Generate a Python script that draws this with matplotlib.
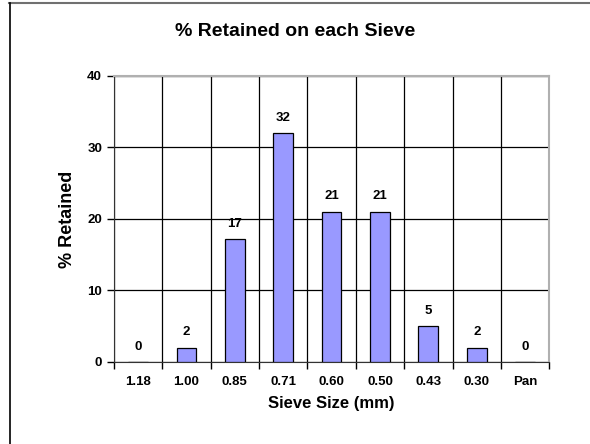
import matplotlib

matplotlib.use("Agg")
import matplotlib.pyplot as plt  # noqa: E402
import numpy as np  # noqa: E402
from matplotlib.lines import Line2D  # noqa: E402

sieves = ["1.18", "1.00", "0.85", "0.71", "0.60", "0.50", "0.43", "0.30", "Pan"]
retained = [0, 2, 17.2, 32, 21, 21, 5, 2, 0]
labels = ["0", "2", "17", "32", "21", "21", "5", "2", "0"]

BAR = "#9999FF"
GRID_GRAY = "#B0B0B0"

plt.rcParams.update({"font.family": ["Liberation Sans", "DejaVu Sans"], "font.weight": "bold"})

fig = plt.figure(figsize=(5.9, 4.44), dpi=100)
ax = fig.add_axes([0.193, 0.185, 0.738, 0.644])

x = np.arange(len(sieves))
ax.bar(x, retained, width=0.41, color=BAR, edgecolor="black", linewidth=0.9, zorder=3)
for xi, v, lab in zip(x, retained, labels):
    ax.text(xi, v + 1.3, lab, ha="center", va="bottom", fontsize=9.5, fontweight="bold", zorder=4)

ax.set_xlim(-0.5, len(sieves) - 0.5)
ax.set_ylim(0, 40)
ax.set_yticks([0, 10, 20, 30, 40])
ax.set_xticks(x, sieves)
ax.set_xticks(np.arange(-0.5, len(sieves)), minor=True)
ax.tick_params(axis="x", which="major", length=0, pad=10, labelsize=9.5)
ax.tick_params(axis="x", which="minor", length=5, width=1, direction="out")
ax.tick_params(axis="y", length=5, width=1, labelsize=9.5)

ax.grid(True, axis="y", color="black", linewidth=0.9, zorder=1)
ax.grid(True, axis="x", which="minor", color="black", linewidth=0.9, zorder=1)
ax.set_axisbelow(True)

for side in ("top", "right"):
    ax.spines[side].set_color(GRID_GRAY)
    ax.spines[side].set_linewidth(1.5)
ax.spines["left"].set_color("#333333")
ax.spines["bottom"].set_color("#333333")

ax.set_ylabel("% Retained", fontsize=13, fontweight="bold", labelpad=8)
ax.set_xlabel("Sieve Size (mm)", fontsize=12, fontweight="bold", labelpad=6)
fig.text(0.5, 0.928, "% Retained on each Sieve", ha="center", va="center", fontsize=14, fontweight="bold")

# frame lines at top and left of the picture
fig.add_artist(Line2D([9 / 590, 1], [1 - 3.5 / 444] * 2, color="#707070", linewidth=1.5))
fig.add_artist(Line2D([9.5 / 590] * 2, [0, 1 - 3.5 / 444], color="black", linewidth=1.2))

fig.savefig("out.png", dpi=100, facecolor="white")
